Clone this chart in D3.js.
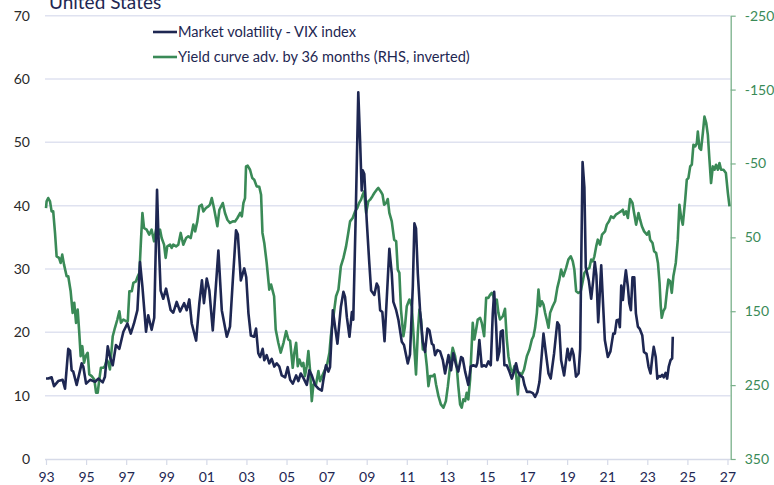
<!DOCTYPE html>
<html>
<head>
<meta charset="utf-8">
<script src="https://cdn.jsdelivr.net/npm/d3@7"></script>
<style>
  body { margin: 0; background: #fff; }
  text { font-family: Lato, "Open Sans", sans-serif; }
</style>
</head>
<body>
<script>
// VIX index (left axis), dates in decimal years
var vixYear = [1993.00,1993.11,1993.28,1993.40,1993.61,1993.83,1993.95,1994.11,1994.20,1994.28,1994.36,1994.53,1994.78,1994.86,1995.00,1995.20,1995.45,1995.61,1995.83,1995.94,
  1996.08,1996.19,1996.33,1996.49,1996.66,1996.86,1997.06,1997.23,1997.39,1997.56,1997.69,1997.81,1997.99,1998.10,1998.27,1998.40,1998.54,1998.60,1998.72,1998.85,1998.99,
  1999.10,1999.22,1999.35,1999.52,1999.69,1999.89,2000.02,2000.15,2000.27,2000.49,2000.65,2000.78,2000.88,2001.02,2001.15,2001.32,2001.60,2001.77,2002.02,2002.18,2002.32,
  2002.48,2002.57,2002.72,2002.89,2002.99,2003.10,2003.22,2003.38,2003.48,2003.59,2003.68,2003.81,2003.89,2004.01,2004.14,2004.26,2004.39,2004.51,2004.64,2004.76,2004.93,
  2005.06,2005.18,2005.31,2005.48,2005.59,2005.71,2005.84,2006.01,2006.14,2006.26,2006.42,2006.59,2006.76,2006.84,2006.97,2007.09,2007.17,2007.31,2007.42,2007.54,2007.71,
  2007.84,2007.92,2008.01,2008.14,2008.26,2008.33,2008.45,2008.58,2008.67,2008.75,2008.80,2008.88,2009.00,2009.12,2009.22,2009.38,2009.50,2009.58,2009.67,2009.78,2009.89,
  2010.13,2010.25,2010.33,2010.47,2010.58,2010.75,2010.86,2011.05,2011.16,2011.30,2011.38,2011.46,2011.55,2011.66,2011.80,2011.91,2012.03,2012.13,2012.25,2012.33,2012.41,
  2012.53,2012.66,2012.80,2012.91,2013.08,2013.21,2013.32,2013.46,2013.57,2013.71,2013.79,2013.91,2014.07,2014.19,2014.32,2014.46,2014.52,2014.62,2014.74,2014.86,2014.96,
  2015.07,2015.19,2015.29,2015.36,2015.46,2015.52,2015.62,2015.69,2015.79,2015.87,2015.99,2016.12,2016.24,2016.35,2016.45,2016.54,2016.65,2016.79,2016.87,2016.99,2017.15,
  2017.29,2017.40,2017.52,2017.62,2017.74,2017.82,2017.94,2018.07,2018.18,2018.35,2018.51,2018.60,2018.70,2018.85,2019.02,2019.12,2019.24,2019.32,2019.44,2019.57,2019.65,
  2019.70,2019.77,2019.86,2019.93,2020.08,2020.20,2020.30,2020.38,2020.46,2020.55,2020.61,2020.70,2020.80,2020.88,2021.03,2021.16,2021.30,2021.38,2021.47,2021.57,2021.63,
  2021.70,2021.78,2021.87,2021.93,2022.03,2022.10,2022.18,2022.26,2022.35,2022.43,2022.53,2022.63,2022.75,2022.83,2022.96,2023.06,2023.16,2023.24,2023.32,2023.42,2023.50,
  2023.58,2023.66,2023.74,2023.82,2023.91,2023.99,2024.07,2024.16,2024.24,2024.27];
var vixValue = [12.7,12.7,12.9,11.5,12.3,12.5,11.1,17.4,17.1,14.0,13.8,11.7,15.1,14.6,11.9,12.5,12.2,12.7,12.1,13.0,
  17.8,16.1,14.8,18.0,17.4,20.1,21.4,19.8,21.4,23.5,31.1,27.2,20.1,22.7,20.4,22.3,42.5,36.1,26.6,25.3,26.9,
  25.3,23.5,23.1,24.8,23.3,24.6,23.5,25.2,21.4,18.7,24.6,28.2,24.6,28.5,26.6,20.3,32.9,23.5,19.3,20.9,28.2,
  36.1,35.5,28.2,30.1,28.7,23.0,19.5,19.3,20.6,16.7,16.1,17.4,15.6,16.4,15.1,15.8,14.6,15.1,14.6,13.2,12.9,
  14.5,12.5,11.9,13.2,12.3,13.5,12.8,11.7,14.0,13.2,11.7,11.1,10.8,12.5,14.8,13.8,14.5,23.5,20.9,18.2,24.0,
  26.4,25.6,22.4,19.3,23.2,22.0,38.2,57.9,50.3,42.4,45.6,45.0,37.7,31.4,26.6,25.9,27.7,27.2,23.5,23.2,18.6,
  33.2,29.3,24.8,23.5,22.0,18.5,18.0,15.1,16.5,27.2,37.2,36.4,29.3,23.5,18.5,16.9,20.6,20.3,18.2,18.0,16.4,
  17.2,17.0,15.6,13.5,16.4,14.0,16.7,14.8,13.8,16.1,15.9,13.8,11.7,14.6,14.8,14.6,15.2,18.8,14.6,14.8,14.6,
  15.4,14.8,23.0,26.4,20.9,15.6,17.0,20.1,20.3,14.8,14.8,13.8,12.7,13.8,15.1,13.8,13.2,12.9,11.7,10.6,10.6,
  10.4,9.8,10.6,12.2,16.7,19.8,16.7,13.5,12.7,16.7,21.6,21.1,15.6,13.2,17.4,15.6,17.4,16.5,13.0,13.5,17.4,
  30.3,46.9,42.9,30.3,28.2,25.3,28.2,31.1,29.0,21.6,25.0,30.6,24.0,18.8,16.1,17.0,19.8,19.8,21.9,22.0,20.8,
  27.4,25.1,28.2,29.8,27.2,24.6,23.5,28.7,28.7,23.0,20.9,20.5,19.5,16.9,16.6,14.6,13.5,15.8,17.7,16.1,12.7,
  13.1,13.0,13.3,12.9,13.6,12.7,14.6,15.6,15.9,19.3];

// Yield curve advanced by 36 months (right axis, inverted)
var curveYear = [1993.00,1993.03,1993.11,1993.20,1993.28,1993.36,1993.45,1993.53,1993.65,1993.73,1993.81,1993.90,1994.03,1994.11,1994.23,1994.33,1994.41,1994.50,1994.58,1994.66,
  1994.73,1994.81,1994.90,1994.98,1995.08,1995.16,1995.28,1995.41,1995.50,1995.58,1995.66,1995.74,1995.86,1995.94,1996.03,1996.11,1996.19,1996.33,1996.44,1996.56,1996.66,
  1996.74,1996.86,1996.99,1997.08,1997.16,1997.28,1997.36,1997.49,1997.58,1997.66,1997.74,1997.81,1997.89,1998.02,1998.15,1998.27,1998.39,1998.49,1998.60,1998.69,1998.77,
  1998.89,1998.97,1999.05,1999.19,1999.27,1999.35,1999.49,1999.60,1999.72,1999.85,1999.99,2000.10,2000.22,2000.35,2000.44,2000.55,2000.65,2000.77,2000.85,2000.98,2001.10,
  2001.18,2001.27,2001.38,2001.55,2001.65,2001.82,2001.93,2002.05,2002.18,2002.32,2002.43,2002.55,2002.69,2002.77,2002.85,2002.93,2002.98,2003.06,2003.18,2003.29,2003.39,
  2003.51,2003.64,2003.73,2003.80,2003.89,2004.01,2004.14,2004.23,2004.38,2004.46,2004.59,2004.71,2004.85,2004.98,2005.09,2005.18,2005.31,2005.39,2005.48,2005.56,2005.64,
  2005.76,2005.84,2005.92,2006.01,2006.09,2006.17,2006.26,2006.34,2006.47,2006.59,2006.67,2006.81,2006.92,2007.04,2007.14,2007.21,2007.34,2007.47,2007.59,2007.71,2007.84,
  2007.97,2008.08,2008.17,2008.30,2008.42,2008.53,2008.62,2008.72,2008.80,2008.87,2008.97,2009.08,2009.17,2009.28,2009.38,2009.50,2009.58,2009.70,2009.79,2009.87,2009.97,
  2010.05,2010.13,2010.25,2010.37,2010.47,2010.55,2010.63,2010.71,2010.83,2010.91,2011.00,2011.13,2011.25,2011.33,2011.46,2011.55,2011.63,2011.71,2011.80,2011.91,2012.00,
  2012.08,2012.16,2012.30,2012.38,2012.46,2012.58,2012.70,2012.83,2012.95,2013.05,2013.16,2013.29,2013.41,2013.49,2013.57,2013.66,2013.74,2013.82,2013.91,2013.99,2014.07,
  2014.16,2014.29,2014.37,2014.46,2014.54,2014.66,2014.74,2014.86,2014.96,2015.07,2015.16,2015.24,2015.32,2015.40,2015.49,2015.57,2015.65,2015.79,2015.90,2015.99,2016.07,
  2016.19,2016.29,2016.37,2016.45,2016.54,2016.62,2016.74,2016.85,2016.99,2017.12,2017.24,2017.32,2017.40,2017.49,2017.57,2017.65,2017.74,2017.82,2017.90,2017.98,2018.07,
  2018.15,2018.28,2018.40,2018.51,2018.61,2018.70,2018.81,2018.95,2019.06,2019.18,2019.28,2019.36,2019.45,2019.56,2019.68,2019.78,2019.86,2019.98,2020.11,2020.20,2020.28,
  2020.36,2020.45,2020.53,2020.64,2020.74,2020.89,2020.98,2021.09,2021.19,2021.31,2021.43,2021.56,2021.68,2021.78,2021.84,2021.94,2022.03,2022.14,2022.26,2022.34,2022.44,
  2022.56,2022.64,2022.73,2022.84,2022.98,2023.08,2023.14,2023.26,2023.34,2023.44,2023.53,2023.61,2023.67,2023.72,2023.80,2023.89,2023.97,2024.05,2024.14,2024.22,2024.30,
  2024.42,2024.52,2024.60,2024.69,2024.77,2024.89,2024.97,2025.05,2025.14,2025.22,2025.30,2025.39,2025.47,2025.52,2025.60,2025.68,2025.77,2025.85,2025.94,2026.02,2026.10,
  2026.18,2026.27,2026.35,2026.43,2026.52,2026.60,2026.68,2026.80,2026.92,2027.02,2027.10];
var curveValue = [10.3,1.3,-3.2,1.3,14.9,14.9,44,75.7,77.8,84.6,73.4,86.9,102.7,102.7,123,152.2,138.6,165.7,147.7,179.2,
  210.8,197.3,219.7,210.8,206.2,235.5,237.8,242.3,260.3,260.3,242.3,226.5,226.5,224.3,215.3,219.7,228.8,183.8,172.4,161.2,150,
  165.7,161.2,163.5,163.5,123,123,111.6,109.5,102.7,98.1,53.1,17,37.3,39.6,46.4,39.6,55.4,39.6,46.4,39.6,50.9,
  59.9,77.8,62.2,59.9,64.4,59.9,62.2,59.9,44,59.9,50.9,48.6,50.9,32.8,41.9,28.4,8.1,5.8,14.9,10.3,8.1,
  5.8,-3.2,10.3,35,12.6,3.5,17,26.1,30.5,28.4,28.4,23.8,17,21.6,3.5,-3.2,-46,-47,-41.5,-30.3,-28,
  -19,-18.5,-7.7,44,57.6,84.6,120.7,113.9,129.7,174.7,192.7,206.2,192.7,177,188.2,190,226.5,206.2,192.7,224.3,215.3,
  224.3,219.8,237.8,224.3,204,228.8,271.6,249.1,249.1,231,244.6,235.6,229,220,206.2,183.8,156.8,129.7,120.7,89.2,77.8,
  62.2,44,28.4,23.8,14.9,10.3,3.5,-1,-7.7,-12.2,17,1.3,-1,-5.4,-10,-14.5,-16.8,-12.2,-7.7,5.8,3.5,
  -1.9,17,28.4,53.1,55.4,93.6,98.1,147.7,183.8,170.3,143.2,134.2,143.2,179.2,235.5,179.2,147.7,161.2,201.8,201.8,224.3,
  251.4,237.8,237.8,235.5,249.1,264.9,276.1,280.5,271.6,251.4,224.3,199.5,210.8,224.3,251.4,276.1,280.5,269.3,271.6,260.3,269.3,
  242.3,165.7,188.2,174.7,161.2,159,165.7,183.8,131.9,131.9,127.4,125.1,129.7,138.6,134.2,152.2,161.2,156.8,146.8,188.2,210.8,
  228.8,233.3,224.3,233.3,262.6,233.3,235.5,228.8,210.8,201.8,188.2,183.8,172.4,152.2,120.7,143.2,136.5,141,152.2,161.2,172.4,
  152.2,143.2,136.5,118.4,107.2,93.6,102.7,91.4,80.1,75.7,82.4,93.6,123,125.3,123,109.5,98.2,93.6,91.4,80.1,82.4,
  75.7,62.2,53.1,59.9,46.4,41.9,32.8,28.3,21.6,23.8,19.3,17,14.9,12.6,19.3,14.9,23.8,-1.9,3.5,17,32.8,
  17,26.1,35,41.9,46.4,41.9,53.1,57.6,68.9,71.2,84.6,111.6,143.2,158.9,149.9,145.4,125.1,107.2,109.5,125.1,102.7,
  84.6,53.1,5.8,23.8,32.8,-1,-28,-30.3,-46,-48.3,-75.3,-73,-77.6,-93.2,-70.7,-68.5,-91,-113.5,-104.5,-88.7,-55,
  -23.5,-46,-41.5,-48.3,-41.5,-50.5,-41.5,-41.5,-37,-10,8.1];

var xTickYears = d3.range(1993, 2028, 2);
var leftTicks = [0, 10, 20, 30, 40, 50, 60, 70];
var rightTicks = [-250, -150, -50, 50, 150, 250, 350];
var seriesNames = ["Market volatility - VIX index", "Yield curve adv. by 36 months (RHS, inverted)"];

var navy = "#1e2752", green = "#3a8a57";
var W = 774, H = 485;

var svg = d3.select("body").append("svg")
    .attr("width", W)
    .attr("height", H);

var x = d3.scaleLinear().domain([1993, 2027.15]).range([46, 730.5]);
var yL = d3.scaleLinear().domain([0, 70]).range([459, 15.7]);
var yR = d3.scaleLinear().domain([-250, 350]).range([15.7, 459]);

// gridlines
svg.append("g")
    .selectAll("line")
    .data(leftTicks.filter(function(d) { return d > 0; }))
    .enter().append("line")
    .attr("x1", 45).attr("x2", 730.5)
    .attr("y1", function(d) { return yL(d); })
    .attr("y2", function(d) { return yL(d); })
    .attr("stroke", "#dfe2f0")
    .attr("stroke-width", 1.5);

// left axis
var gl = svg.append("g")
    .attr("transform", "translate(45,0)")
    .call(d3.axisLeft(yL).tickValues(leftTicks).tickSize(0).tickPadding(15));
gl.select(".domain").remove();
gl.selectAll("text").attr("font-size", 14).attr("fill", "#2a2a2a").attr("font-family", "Lato");

// bottom axis
var gb = svg.append("g")
    .attr("transform", "translate(0,459)")
    .call(d3.axisBottom(x).tickValues(xTickYears).tickSizeInner(6).tickSizeOuter(0).tickPadding(7)
        .tickFormat(function(d) { return String(d).slice(2); }));
gb.select(".domain").attr("stroke", "#d6dae8").attr("stroke-width", 1.5).attr("d", "M45,0.5H730.5");
gb.selectAll(".tick line").attr("stroke", "#d6dae8").attr("stroke-width", 1.2);
gb.selectAll("text").attr("font-size", 14).attr("fill", navy).attr("font-family", "Lato");

// right axis (plain hyphen for the minus sign, as in the source)
var gr = svg.append("g")
    .attr("transform", "translate(730.7,0)")
    .call(d3.axisRight(yR).tickValues(rightTicks).tickSizeInner(5).tickSizeOuter(0).tickPadding(9)
        .tickFormat(function(d) { return String(d); }));
gr.select(".domain").attr("stroke", "#79b08a").attr("stroke-width", 1.3);
gr.selectAll(".tick line").attr("stroke", "#79b08a").attr("stroke-width", 1.2);
gr.selectAll("text").attr("font-size", 14).attr("fill", green).attr("font-family", "Lato");

// series lines
var curveData = curveYear.map(function(d, i) { return [d, curveValue[i]]; });
var vixData = vixYear.map(function(d, i) { return [d, vixValue[i]]; });

svg.append("path")
    .datum(curveData)
    .attr("fill", "none")
    .attr("stroke", green)
    .attr("stroke-width", 2.6)
    .attr("stroke-linejoin", "round")
    .attr("d", d3.line().x(function(d) { return x(d[0]); }).y(function(d) { return yR(d[1]); }));

svg.append("path")
    .datum(vixData)
    .attr("fill", "none")
    .attr("stroke", navy)
    .attr("stroke-width", 2.6)
    .attr("stroke-linejoin", "round")
    .attr("d", d3.line().x(function(d) { return x(d[0]); }).y(function(d) { return yL(d[1]); }));

// title, cut off at the top like the source
svg.append("text")
    .attr("x", 49).attr("y", 8.5)
    .attr("font-size", 19)
    .attr("fill", navy)
    .text("United States");

// legend
var legend = svg.append("g");
[navy, green].forEach(function(c, i) {
    var ly = 32 + i * 25;
    legend.append("line")
        .attr("x1", 153).attr("x2", 177)
        .attr("y1", ly).attr("y2", ly)
        .attr("stroke", c).attr("stroke-width", 2.6);
    legend.append("text")
        .attr("x", 178).attr("y", ly)
        .attr("dy", "0.35em")
        .attr("font-size", 14.6)
        .attr("fill", navy)
        .text(seriesNames[i]);
});
</script>
</body>
</html>
